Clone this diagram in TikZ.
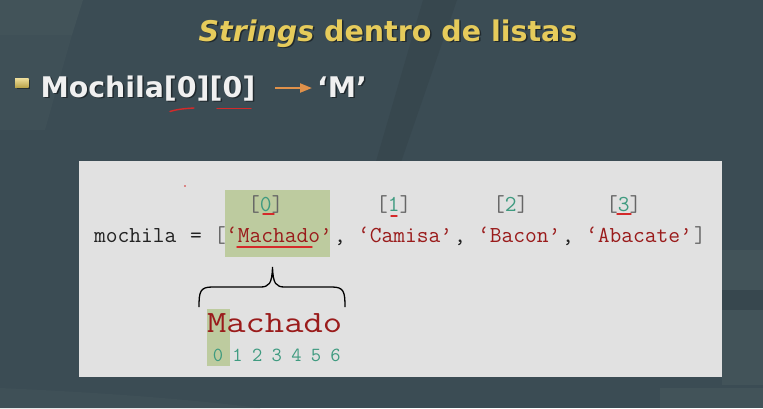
\documentclass[tikz,border=0pt]{standalone}
\usepackage{fontspec}
\setmainfont{DejaVu Sans}
\usetikzlibrary{arrows.meta}

\definecolor{bgbase}{HTML}{3B4C54}
\definecolor{bglight}{HTML}{425359}
\definecolor{bgdark}{HTML}{37474E}
\definecolor{titleyellow}{HTML}{E6CB5B}
\definecolor{bulletwhite}{HTML}{F0F0F0}
\definecolor{arroworange}{HTML}{E0914A}
\definecolor{panelgray}{HTML}{E1E1E1}
\definecolor{hlgreen}{HTML}{BDCB9F}
\definecolor{codeblack}{HTML}{222222}
\definecolor{codegray}{HTML}{666666}
\definecolor{strred}{HTML}{9A1B1B}
\definecolor{idxteal}{HTML}{3F9B80}
\definecolor{markred}{HTML}{D42A2A}

\tikzset{
  plain/.style={inner sep=0pt, outer sep=0pt},
  titletext/.style={plain, font=\fontsize{28.5}{34}\selectfont\bfseries},
  slidetext/.style={plain, font=\fontsize{28.4}{34}\selectfont\bfseries},
  codetext/.style={plain, anchor=base west, font=\fontsize{22.86}{27}\selectfont\ttfamily},
  codeword/.style={codetext, text=codeblack},
  codestr/.style={codetext, text=strred},
  codebracket/.style={codetext, text=codegray},
  bigcode/.style={plain, font=\fontsize{31}{38}\selectfont\ttfamily, text=strred},
  digit/.style={plain, font=\fontsize{20}{24}\selectfont\ttfamily, text=idxteal, anchor=base},
  highlight/.style={fill=hlgreen},
  redmark/.style={draw=markred, line width=1.4pt, line cap=round},
  shadowed/.style={text=black, opacity=0.45},
}
% x position of a character column of the code line (12pt per column)
\newcommand{\colx}[1]{{94+12*#1}}

\begin{document}
\begin{tikzpicture}[x=1pt,y=-1pt]
\useasboundingbox (0,0) rectangle (763,408);

% slide background with its faint panels
\fill[bgbase] (0,0) rectangle (763,408);
\fill[bglight] (0,0) -- (83,0) -- (72,35) -- (0,35) -- cycle;
\fill[bglight!60!bgbase] (0,35) -- (72,35) -- (45,130) -- (0,130) -- cycle;
\fill[bgdark] (423,0) -- (457,0) -- (400,165) -- (375,165) -- cycle;
\fill[bglight] (722,250) rectangle (763,290);
\fill[bgdark] (722,290) rectangle (763,310);
\fill[bglight] (722,310) rectangle (763,385);
\fill[bglight] (660,388) rectangle (763,408);
\fill[bglight!60!bgbase] (0,388) .. controls (90,392) and (180,398) .. (260,408) -- (0,408) -- cycle;

% title
\node[titletext, shadowed, anchor=base] at (389.5,42.5) {\textit{Strings} dentro de listas};
\node[titletext, text=titleyellow, anchor=base] (title) at (388,41) {\textit{Strings} dentro de listas};

% bullet line
\fill[black, opacity=0.4] (16.5,79.5) rectangle (30,89);
\shade[top color=titleyellow!60!white, bottom color=titleyellow!80!black] (15,78) rectangle (28.5,87.5);
\node[slidetext, shadowed, anchor=base west] at (42,98.5) {Mochila[0][0]};
\node[slidetext, text=bulletwhite, anchor=base west] (expr) at (40.5,97) {Mochila[0][0]};
\node[slidetext, shadowed, anchor=base west] at (318.5,98.5) {‘M’};
\node[slidetext, text=bulletwhite, anchor=base west] (result) at (317,97) {‘M’};
\coordinate (arrowstart) at (275,88);
\coordinate (arrowend) at (312,88);
\draw[arroworange, line width=2.2pt, -{Triangle[length=12pt,width=9pt]}] (arrowstart) -- (arrowend);
\draw[redmark] (170,111.5) .. controls (178,109) and (186,108.5) .. (194,108);
\draw[redmark] (217,108.5) -- (251,108.5);

% code panel
\fill[panelgray] (79,161) rectangle (722,377);
\fill[highlight] (225,190) rectangle (330,257);
\fill[highlight] (207,309) rectangle (230,366);

% the list literal, one token per node on a fixed column grid
\node[codeword]    (var)    at (\colx{0},242)  {mochila};
\node[codeword]    (eq)     at (\colx{8},242)  {=};
\node[codebracket] (open)   at (\colx{10},242) {[};
\node[codestr]     (s0)     at (\colx{11},242) {‘Machado’};
\node[codeword]    (c0)     at (\colx{20},242) {,};
\node[codestr]     (s1)     at (\colx{22},242) {‘Camisa’};
\node[codeword]    (c1)     at (\colx{30},242) {,};
\node[codestr]     (s2)     at (\colx{32},242) {‘Bacon’};
\node[codeword]    (c2)     at (\colx{39},242) {,};
\node[codestr]     (s3)     at (\colx{41},242) {‘Abacate’};
\node[codebracket] (close)  at (\colx{50},242) {]};

% index labels above the items
\node[codetext] (i0) at (248,211) {\textcolor{codegray}{[}\textcolor{idxteal}{0}\textcolor{codegray}{]}};
\node[codetext] (i1) at (376,211) {\textcolor{codegray}{[}\textcolor{idxteal}{1}\textcolor{codegray}{]}};
\node[codetext] (i2) at (493,211) {\textcolor{codegray}{[}\textcolor{idxteal}{2}\textcolor{codegray}{]}};
\node[codetext] (i3) at (606,211) {\textcolor{codegray}{[}\textcolor{idxteal}{3}\textcolor{codegray}{]}};

% hand-drawn red marks
\draw[redmark] (237,247) -- (312,247);
\draw[redmark] (263,214) -- (274,214);
\draw[redmark] (391,216) -- (397,216);
\draw[redmark] (617,214) -- (631,214);
\fill[markred] (185,186) circle (0.9);

% brace from the first item down to its letters
\draw[black, line width=1.3pt]
  (199,307) .. controls (199,292) and (200,287) .. (212,287)
  -- (260,287) .. controls (269,287) and (272,284) .. (272.5,267)
  .. controls (273,284) and (276,287) .. (285,287)
  -- (332,287) .. controls (344,287) and (345,292) .. (345,307);

% the string and its character positions
\node[bigcode, anchor=base west] (word) at (207,332) {\scalebox{1.21}[1]{Machado}};
\foreach \k in {0,...,6} {
  \node[digit] (d\k) at ({218+19.6*\k},361) {\k};
}
\end{tikzpicture}
\end{document}
